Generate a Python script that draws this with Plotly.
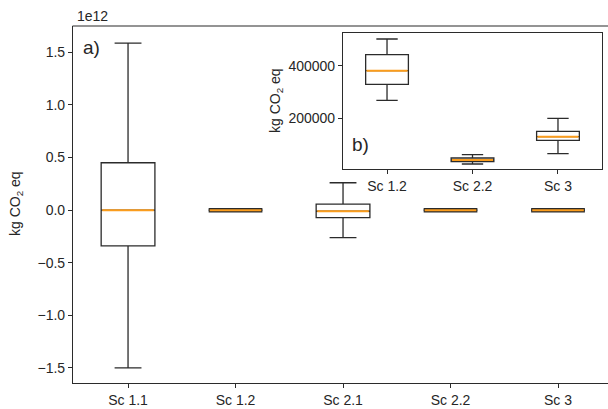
import plotly.graph_objects as go

# ---------------- data ----------------
main_categories = ["Sc 1.1", "Sc 1.2", "Sc 2.1", "Sc 2.2", "Sc 3"]
main_q1 = [-0.34e12, 329000, -0.071e12, 35000, 116300]
main_median = [0.0, 381000, -0.01e12, 41400, 130000]
main_q3 = [0.451e12, 441800, 0.057e12, 49000, 150600]
main_low = [-1.5e12, 268000, -0.261e12, 26200, 65400]
main_high = [1.589e12, 501500, 0.261e12, 61600, 200000]

inset_categories = ["Sc 1.2", "Sc 2.2", "Sc 3"]
inset_q1 = [329000, 35000, 116300]
inset_median = [381000, 41400, 130000]
inset_q3 = [441800, 49000, 150600]
inset_low = [268000, 26200, 65400]
inset_high = [501500, 61600, 200000]

main_yticks = [-1.5e12, -1.0e12, -0.5e12, 0.0, 0.5e12, 1.0e12, 1.5e12]
main_yticklabels = ["−1.5", "−1.0", "−0.5", "0.0", "0.5", "1.0", "1.5"]
inset_yticks = [200000, 400000]
inset_yticklabels = ["200000", "400000"]

# ---------------- style ----------------
W, H = 608, 409
FONT = "Liberation Sans"
TXT = "#262626"
EDGE = "#2b2b2b"
ORANGE = "#fb9d1c"
BOXW = 0.5
MAIN_YRANGE = [-1.643e12, 1.751e12]
INSET_YRANGE = [7200, 524300]


def px_x(p):
    return p / W


def px_y(p):
    return 1 - p / H


fig = go.Figure()


def add_boxes(cats, q1, med, q3, lo, hi, xa, ya, yrange):
    pos = list(range(1, len(cats) + 1))
    for i, p in enumerate(pos):
        fig.add_trace(go.Box(
            x=[p], q1=[q1[i]], median=[med[i]], q3=[q3[i]],
            lowerfence=[lo[i]], upperfence=[hi[i]],
            width=BOXW, whiskerwidth=0.5, boxpoints=False,
            line=dict(color=EDGE, width=1.3), fillcolor="white",
            xaxis=xa, yaxis=ya, showlegend=False, hoverinfo="skip",
        ))
    span = yrange[1] - yrange[0]
    # collapsed boxes (too small to see at this scale) keep a dark outline
    dx, dy = [], []
    for i, p in enumerate(pos):
        if (q3[i] - q1[i]) < 0.002 * span:
            dx += [p - BOXW / 2, p + BOXW / 2, None]
            dy += [med[i], med[i], None]
    if dx:
        fig.add_trace(go.Scatter(
            x=dx, y=dy, mode="lines", line=dict(color=EDGE, width=4.5),
            xaxis=xa, yaxis=ya, showlegend=False, hoverinfo="skip",
        ))
    mx, my = [], []
    for i, p in enumerate(pos):
        mx += [p - BOXW / 2 + 0.01, p + BOXW / 2 - 0.01, None]
        my += [med[i], med[i], None]
    fig.add_trace(go.Scatter(
        x=mx, y=my, mode="lines", line=dict(color=ORANGE, width=2),
        xaxis=xa, yaxis=ya, showlegend=False, hoverinfo="skip",
    ))
    return pos


main_pos = add_boxes(main_categories, main_q1, main_median, main_q3,
                     main_low, main_high, "x", "y", MAIN_YRANGE)
inset_pos = add_boxes(inset_categories, inset_q1, inset_median, inset_q3,
                      inset_low, inset_high, "x2", "y2", INSET_YRANGE)

tickfont = dict(family=FONT, size=14, color=TXT)
axis_common = dict(showgrid=False, zeroline=False, showline=True,
                   linecolor=EDGE, linewidth=1.1, ticks="outside",
                   ticklen=4, tickwidth=1.1, tickcolor=EDGE, tickfont=tickfont)

fig.update_layout(
    width=W, height=H,
    margin=dict(l=0, r=0, t=0, b=0),
    paper_bgcolor="white", plot_bgcolor="white",
    showlegend=False,
    xaxis=dict(domain=[px_x(73), 1.0], range=[0.488, 5.465],
               tickvals=main_pos, ticktext=main_categories,
               mirror=False, anchor="y", **axis_common),
    yaxis=dict(domain=[px_y(383), px_y(26)], range=MAIN_YRANGE,
               tickvals=main_yticks, ticktext=main_yticklabels,
               mirror=False, anchor="x", **axis_common),
    xaxis2=dict(domain=[px_x(343), px_x(602)], range=[0.485, 3.515],
                tickvals=inset_pos, ticktext=inset_categories,
                mirror=True, anchor="y2", **axis_common),
    yaxis2=dict(domain=[px_y(169), px_y(33)], range=INSET_YRANGE,
                tickvals=inset_yticks, ticktext=inset_yticklabels,
                mirror=True, anchor="x2", **axis_common),
)

# top spine of the main axes (its right spine lies outside the picture)
fig.add_shape(type="line", xref="paper", yref="paper",
              x0=px_x(72.5), x1=1.0, y0=px_y(26), y1=px_y(26),
              line=dict(color=EDGE, width=1.1), layer="above")

annots = [
    dict(text="1e12", x=px_x(75), y=px_y(16), xanchor="left", yanchor="middle",
         font=dict(family=FONT, size=14, color=TXT)),
    dict(text="a)", x=px_x(81), y=px_y(47), xanchor="left", yanchor="middle",
         font=dict(family=FONT, size=19, color=TXT)),
    dict(text="b)", x=px_x(350), y=px_y(144), xanchor="left", yanchor="middle",
         font=dict(family=FONT, size=19, color=TXT)),
    dict(text="kg CO<sub>2</sub> eq", x=px_x(16), y=px_y(204), textangle=-90,
         xanchor="center", yanchor="middle",
         font=dict(family=FONT, size=14, color=TXT)),
    dict(text="kg CO<sub>2</sub> eq", x=px_x(276), y=px_y(101), textangle=-90,
         xanchor="center", yanchor="middle",
         font=dict(family=FONT, size=14, color=TXT)),
]
for a in annots:
    fig.add_annotation(xref="paper", yref="paper", showarrow=False, **a)

fig.write_html("out.html",
               config={"displayModeBar": False},
               post_script="document.body.style.margin='0px';"
                           "document.body.style.overflow='hidden';")
